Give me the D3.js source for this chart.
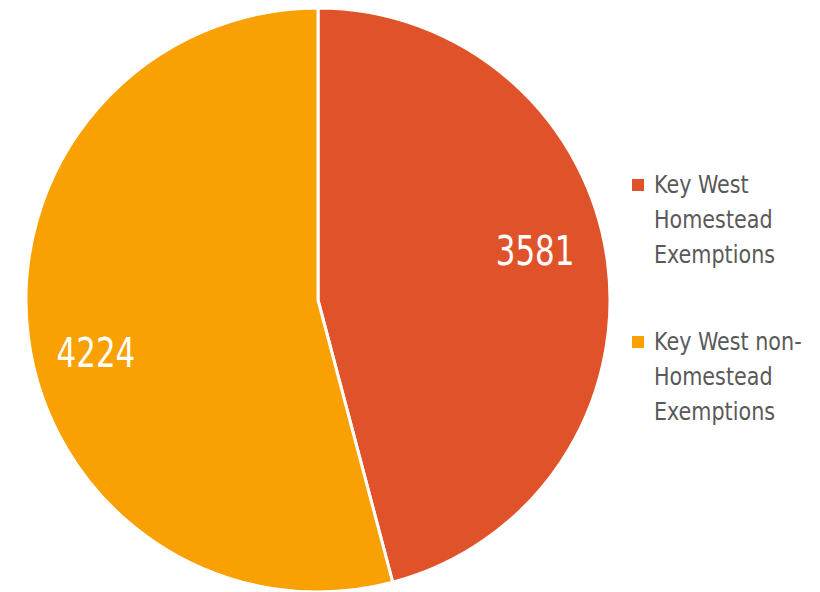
<!DOCTYPE html>
<html><head><meta charset="utf-8">
<script src="https://cdn.jsdelivr.net/npm/d3@7"></script>
<style>
html,body{margin:0;padding:0;background:#fff;}
text{font-family:"DejaVu Sans Condensed","Liberation Sans Narrow","Roboto",sans-serif;}
</style></head>
<body><svg id="c" width="820" height="592"></svg>
<script>
const categories = ["Key West Homestead Exemptions", "Key West non-Homestead Exemptions"];
const legendLines = [["Key West", "Homestead", "Exemptions"], ["Key West non-", "Homestead", "Exemptions"]];
const values = [3581, 4224];
const colors = ["#E0532A", "#F9A002"];

const svg = d3.select("#c");
const cx = 318, cy = 300, R = 292;
const g = svg.append("g").attr("transform", `translate(${cx},${cy})`);
const pie = d3.pie().sort(null).value(d => d)(values);
const arc = d3.arc().innerRadius(0).outerRadius(R);
g.selectAll("path").data(pie).join("path")
  .attr("d", arc).attr("fill", (d, i) => colors[i])
  .attr("stroke", "#fff").attr("stroke-width", 3).attr("stroke-linejoin", "round");

const labelArc = d3.arc().innerRadius(R * 0.76).outerRadius(R * 0.76);
const dyAdj = [-20, 24];
const dxAdj = [-3, -2];
g.selectAll("text.lbl").data(pie).join("text").attr("class", "lbl")
  .attr("transform", (d, i) => { const c = labelArc.centroid(d); return `translate(${c[0] + dxAdj[i]},${c[1] + dyAdj[i]}) scale(0.86,1)`; })
  .attr("text-anchor", "middle").attr("dominant-baseline", "central")
  .attr("fill", "#fff").attr("font-size", 40)
  .text(d => d.data);

const leg = svg.append("g");
const legY = [185, 342];
categories.forEach((c, i) => {
  const lg = leg.append("g").attr("transform", `translate(632,${legY[i]})`);
  lg.append("rect").attr("x", 0).attr("y", -6).attr("width", 12).attr("height", 12).attr("fill", colors[i]);
  legendLines[i].forEach((t, j) => {
    lg.append("text").attr("transform", `translate(22,${j * 35}) scale(0.92,1)`).attr("dominant-baseline", "central")
      .attr("fill", "#595959").attr("font-size", 25).text(t);
  });
});
</script></body></html>
